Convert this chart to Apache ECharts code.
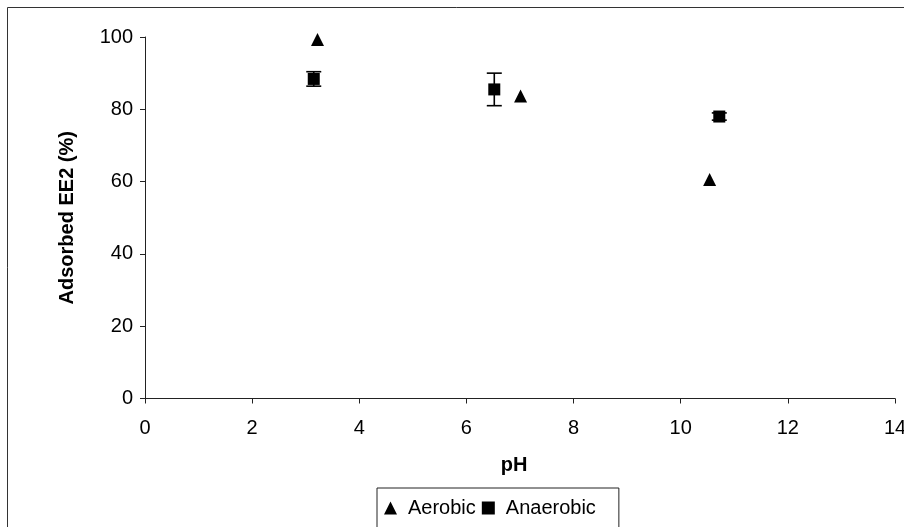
<!DOCTYPE html>
<html>
<head>
<meta charset="utf-8">
<script src="https://cdn.jsdelivr.net/npm/echarts@6/dist/echarts.min.js"></script>
<style>
  html, body { margin: 0; padding: 0; background: #fff; }
  #chart { width: 904px; height: 527px; }
</style>
</head>
<body>
<div id="chart"></div>
<script>
// Adsorbed EE2 versus pH, aerobic and anaerobic sludge
const aerobicPH = [3.22, 7.01, 10.54];
const aerobicAdsorbed = [99.3, 83.7, 60.6];
const anaerobicPH = [3.15, 6.52, 10.72];
const anaerobicAdsorbed = [88.4, 85.5, 78.0];
const anaerobicError = [2.0, 4.5, 1.0];
const xTicks = [0, 2, 4, 6, 8, 10, 12, 14];
const yTicks = [0, 20, 40, 60, 80, 100];

const FONT = '"Liberation Sans", Arial, sans-serif';

const chart = echarts.init(document.getElementById('chart'), null, { renderer: 'canvas' });

const aerobicData = aerobicPH.map((x, i) => [x, aerobicAdsorbed[i]]);
const anaerobicData = anaerobicPH.map((x, i) => [x, anaerobicAdsorbed[i]]);
const errorData = anaerobicPH.map((x, i) => [x, anaerobicAdsorbed[i] - anaerobicError[i], anaerobicAdsorbed[i] + anaerobicError[i]]);

chart.setOption({
  animation: false,
  backgroundColor: '#fff',
  grid: { left: 145, right: 9, top: 37, bottom: 128.5, containLabel: false, outerBoundsMode: 'none' },
  graphic: [{
    type: 'rect',
    shape: { x: 7.5, y: 7.5, width: 1000, height: 1000 },
    style: { fill: 'none', stroke: '#333', lineWidth: 1 },
    silent: true,
    z: -1
  }],
  xAxis: {
    type: 'value',
    min: xTicks[0],
    max: xTicks[xTicks.length - 1],
    interval: 2,
    name: 'pH',
    nameLocation: 'middle',
    nameGap: 57,
    nameTextStyle: { fontFamily: FONT, fontSize: 20, fontWeight: 'bold', color: '#000', padding: [0, 12, 0, 0] },
    axisLine: { onZero: false, lineStyle: { color: '#222', width: 1 } },
    axisTick: { show: true, inside: false, length: 5, lineStyle: { color: '#222' } },
    axisLabel: { margin: 20, fontFamily: FONT, fontSize: 20, color: '#000', hideOverlap: false },
    splitLine: { show: false }
  },
  yAxis: {
    type: 'value',
    min: yTicks[0],
    max: yTicks[yTicks.length - 1],
    interval: 20,
    name: 'Adsorbed EE2 (%)',
    nameLocation: 'middle',
    nameRotate: 90,
    nameGap: 68,
    nameTextStyle: { fontFamily: FONT, fontSize: 20, fontWeight: 'bold', color: '#000' },
    axisLine: { show: true, onZero: false, lineStyle: { color: '#222', width: 1 } },
    axisTick: { show: true, inside: false, length: 5, lineStyle: { color: '#222' } },
    axisLabel: { margin: 12, fontFamily: FONT, fontSize: 20, color: '#000' },
    splitLine: { show: false }
  },
  legend: {
    left: 377,
    top: 488,
    orient: 'horizontal',
    borderColor: '#222',
    borderWidth: 1,
    borderRadius: 0,
    padding: [10, 23, 10, 7],
    itemGap: 6,
    itemWidth: 13,
    itemHeight: 13,
    textStyle: { fontFamily: FONT, fontSize: 20, color: '#000', padding: [0, 0, 0, 6] },
    data: [
      { name: 'Aerobic', icon: 'triangle' },
      { name: 'Anaerobic', icon: 'rect' }
    ]
  },
  series: [
    {
      name: 'AnaerobicError',
      type: 'custom',
      z: 1,
      silent: true,
      data: errorData,
      renderItem: function (params, api) {
        const x = api.value(0);
        const lo = api.coord([x, api.value(1)]);
        const hi = api.coord([x, api.value(2)]);
        const half = 7.5;
        const style = { stroke: '#000', lineWidth: 1.6 };
        return {
          type: 'group',
          children: [
            { type: 'line', shape: { x1: lo[0], y1: lo[1], x2: hi[0], y2: hi[1] }, style: style },
            { type: 'line', shape: { x1: hi[0] - half, y1: hi[1], x2: hi[0] + half, y2: hi[1] }, style: style },
            { type: 'line', shape: { x1: lo[0] - half, y1: lo[1], x2: lo[0] + half, y2: lo[1] }, style: style }
          ]
        };
      }
    },
    {
      name: 'Aerobic',
      type: 'scatter',
      z: 3,
      symbol: 'triangle',
      symbolSize: [13, 13],
      itemStyle: { color: '#000', opacity: 1 },
      data: aerobicData
    },
    {
      name: 'Anaerobic',
      type: 'scatter',
      z: 3,
      symbol: 'rect',
      symbolSize: [12, 12],
      itemStyle: { color: '#000', opacity: 1 },
      data: anaerobicData
    }
  ]
});
</script>
</body>
</html>
